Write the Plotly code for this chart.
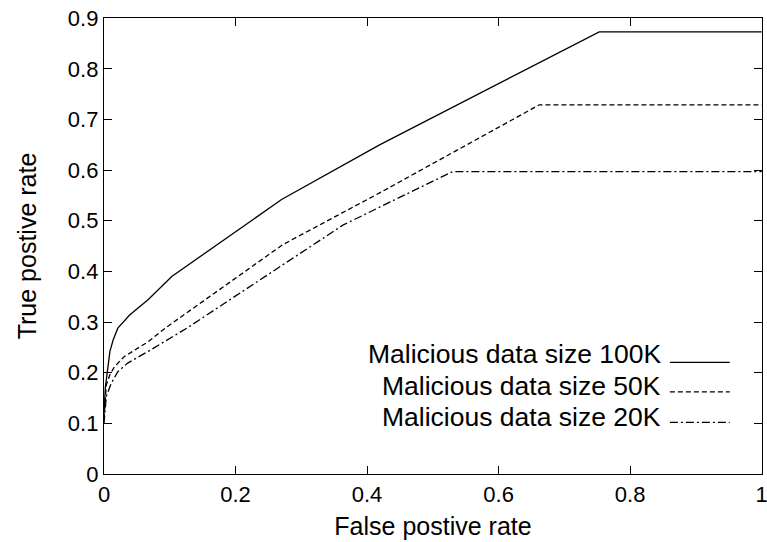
import plotly.graph_objects as go

# ROC curves
fpr_100k = [0.0, 0.002, 0.009, 0.014, 0.021, 0.039, 0.067, 0.103, 0.27, 0.419, 0.753, 1.0]
tpr_100k = [0.12, 0.17, 0.242, 0.265, 0.288, 0.314, 0.344, 0.390, 0.542, 0.650, 0.873, 0.873]

fpr_50k = [0.0, 0.0035, 0.009, 0.016, 0.031, 0.067, 0.093, 0.272, 0.419, 0.662, 1.0]
tpr_50k = [0.11, 0.176, 0.196, 0.212, 0.232, 0.261, 0.288, 0.453, 0.555, 0.729, 0.729]

fpr_20k = [0.0, 0.0035, 0.011, 0.021, 0.036, 0.067, 0.126, 0.222, 0.364, 0.530, 1.0]
tpr_20k = [0.10, 0.153, 0.179, 0.202, 0.219, 0.242, 0.288, 0.370, 0.492, 0.597, 0.597]

names = ["Malicious data size 100K", "Malicious data size 50K", "Malicious data size 20K"]
dashes = ["solid", "5px,3px", "8px,3px,2px,3px"]
xs = [fpr_100k, fpr_50k, fpr_20k]
ys = [tpr_100k, tpr_50k, tpr_20k]

xticks = [0, 0.2, 0.4, 0.6, 0.8, 1]
xticklabels = ["0", "0.2", "0.4", "0.6", "0.8", "1"]
yticks = [0, 0.1, 0.2, 0.3, 0.4, 0.5, 0.6, 0.7, 0.8, 0.9]
yticklabels = ["0", "0.1", "0.2", "0.3", "0.4", "0.5", "0.6", "0.7", "0.8", "0.9"]

FONT = "Liberation Sans, Arial, sans-serif"

fig = go.Figure()
for x, y, n, d in zip(xs, ys, names, dashes):
    fig.add_trace(go.Scatter(x=x, y=y, mode="lines", name=n,
                             line=dict(color="black", width=1.3, dash=d),
                             showlegend=False, cliponaxis=False))

# gnuplot-style legend: right-aligned text, line sample to the right
legend_text_y = [0.263, 0.193, 0.125]
legend_line_y = [0.245, 0.180, 0.113]
for n, d, ty, ly in zip(names, dashes, legend_text_y, legend_line_y):
    fig.add_annotation(xref="paper", yref="paper", x=0.849, y=ty, text=n,
                       showarrow=False, xanchor="right", yanchor="middle",
                       font=dict(family=FONT, size=26.5, color="black"))
    fig.add_shape(type="line", xref="paper", yref="paper",
                  x0=0.860, x1=0.951, y0=ly, y1=ly,
                  line=dict(color="black", width=1.3, dash=d))

axis_common = dict(showgrid=False, zeroline=False, showline=True, mirror="ticks",
                   linecolor="black", linewidth=1.3, ticks="inside", ticklen=8,
                   tickwidth=1, tickcolor="black", ticklabeloverflow="allow",
                   automargin=False,
                   tickfont=dict(family=FONT, size=22, color="black"))

fig.update_xaxes(range=[0, 1.0005], tickvals=xticks, ticktext=xticklabels,
                 title=dict(text="False postive rate", font=dict(family=FONT, size=25, color="black"),
                            standoff=11), **axis_common)
fig.update_yaxes(range=[0, 0.9004], tickvals=yticks, ticktext=yticklabels,
                 title=dict(text="True postive rate", font=dict(family=FONT, size=25, color="black"),
                            standoff=24), **axis_common)

fig.update_layout(width=767, height=542, margin=dict(l=104, r=5, t=18, b=68),
                  plot_bgcolor="white", paper_bgcolor="white")

fig.write_html("out.html")
